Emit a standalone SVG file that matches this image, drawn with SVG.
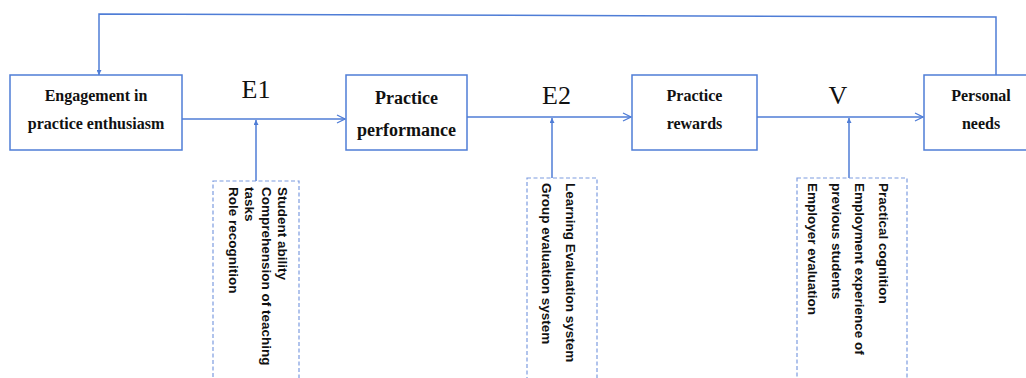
<svg xmlns="http://www.w3.org/2000/svg" width="1026" height="378" viewBox="0 0 1026 378">
  <style>
    .box { fill: #ffffff; stroke: #4F7DD6; stroke-width: 1.5; }
    .note { fill: none; stroke: #7C9CE0; stroke-width: 1.2; stroke-dasharray: 4 2.5; }
    .wire { fill: none; stroke: #4F7DD6; stroke-width: 1.5; }
    .title { font-family: "Liberation Serif", "Times New Roman", serif; font-weight: bold; font-size: 16px; fill: #111; text-anchor: middle; }
    .big { font-size: 18px; }
    .var { font-family: "Liberation Serif", "Times New Roman", serif; font-size: 26px; fill: #111; text-anchor: middle; }
    .side { font-family: "Liberation Sans", Arial, sans-serif; font-weight: bold; font-size: 13.5px; fill: #111; }
  </style>
  <defs>
    <marker id="open" viewBox="0 0 10 10" refX="9" refY="5" markerWidth="10" markerHeight="10" markerUnits="userSpaceOnUse" orient="auto">
      <path d="M1,1 L9,5 L1,9" fill="none" stroke="#4F7DD6" stroke-width="1.3"/>
    </marker>
    <marker id="tip" viewBox="0 0 6 6" refX="6" refY="3" markerWidth="5" markerHeight="5" markerUnits="userSpaceOnUse" orient="auto">
      <path d="M0,0 L6,3 L0,6 Z" fill="#4F7DD6"/>
    </marker>
  </defs>

  <!-- connectors -->
  <g id="connectors">
    <line class="wire" x1="182" y1="119" x2="345" y2="119" marker-end="url(#open)"/>
    <line class="wire" x1="467" y1="117" x2="631" y2="117" marker-end="url(#open)"/>
    <line class="wire" x1="757" y1="117" x2="923" y2="117" marker-end="url(#open)"/>
    <polyline class="wire" points="996,75 996,17 99,14 99,75" marker-end="url(#tip)"/>
    <line class="wire" x1="256" y1="181" x2="256" y2="120" marker-end="url(#tip)"/>
    <line class="wire" x1="552" y1="178" x2="552" y2="118" marker-end="url(#tip)"/>
    <line class="wire" x1="849" y1="178" x2="849" y2="118" marker-end="url(#tip)"/>
  </g>

  <!-- main chain -->
  <g id="engagement">
    <rect class="box" x="10" y="75" width="172" height="75"/>
    <text class="title" x="96" y="101">Engagement in</text>
    <text class="title" x="96" y="129">practice enthusiasm</text>
  </g>
  <g id="performance">
    <rect class="box" x="346" y="75" width="121" height="75"/>
    <text class="title big" x="406.5" y="104">Practice</text>
    <text class="title big" x="406.5" y="136">performance</text>
  </g>
  <g id="rewards">
    <rect class="box" x="632" y="75" width="125" height="75"/>
    <text class="title" x="694.5" y="101">Practice</text>
    <text class="title" x="694.5" y="129">rewards</text>
  </g>
  <g id="needs">
    <rect class="box" x="924" y="75" width="114" height="75"/>
    <text class="title" x="981" y="101">Personal</text>
    <text class="title" x="981" y="129">needs</text>
  </g>

  <!-- link labels -->
  <g id="labels">
    <text class="var" x="256" y="98">E1</text>
    <text class="var" x="556.5" y="104">E2</text>
    <text class="var" x="838" y="104">V</text>
  </g>

  <!-- factor notes -->
  <g id="factors-e1">
    <rect class="note" x="213" y="181" width="86" height="220"/>
    <text class="side" transform="translate(278,187) rotate(90)">Student ability</text>
    <text class="side" transform="translate(261.5,187) rotate(90)">Comprehension of teaching</text>
    <text class="side" transform="translate(245,187) rotate(90)">tasks</text>
    <text class="side" transform="translate(228.5,187) rotate(90)">Role recognition</text>
  </g>
  <g id="factors-e2">
    <rect class="note" x="527" y="178" width="70" height="220"/>
    <text class="side" transform="translate(565.5,183) rotate(90)">Learning Evaluation system</text>
    <text class="side" transform="translate(541.5,183) rotate(90)">Group evaluation system</text>
  </g>
  <g id="factors-v">
    <rect class="note" x="797" y="178" width="110" height="220"/>
    <text class="side" transform="translate(878.5,183) rotate(90)">Practical cognition</text>
    <text class="side" transform="translate(855,183) rotate(90)">Employment experience of</text>
    <text class="side" transform="translate(831.5,183) rotate(90)">previous students</text>
    <text class="side" transform="translate(808,183) rotate(90)">Employer evaluation</text>
  </g>
</svg>
